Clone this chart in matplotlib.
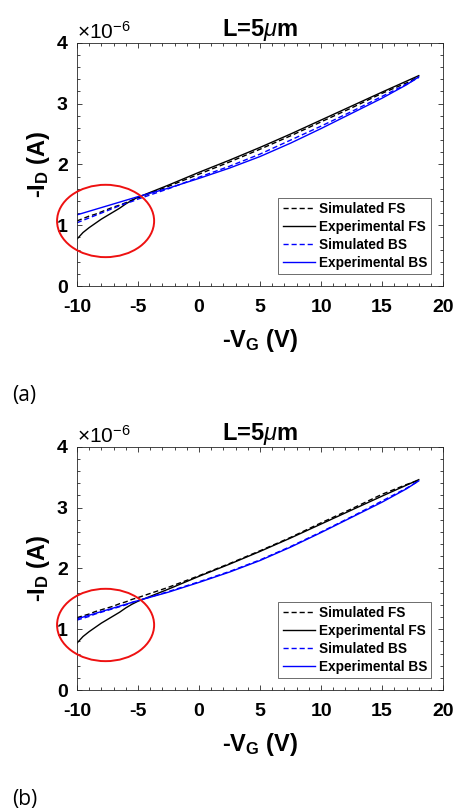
#!/usr/bin/env python3

import numpy as np
import matplotlib
matplotlib.use("Agg")
import matplotlib.pyplot as plt
from matplotlib.patches import Ellipse
from matplotlib.ticker import MultipleLocator, ScalarFormatter

# gate sweep (-V_G, volts)
vg = [-10, -9.5, -9, -8.5, -8, -7.5, -7, -6.5, -6, -5.5, -5,
      -2.5, 0, 2.5, 5, 7.5, 10, 12.5, 15, 17, 18]

# drain current (-I_D) in uA
exp_fs = [0.77, 0.88, 0.96, 1.03, 1.10, 1.16, 1.22, 1.28, 1.35, 1.41, 1.46,
          1.66, 1.87, 2.07, 2.28, 2.50, 2.73, 2.96, 3.19, 3.37, 3.46]
exp_bs = [1.17, 1.20, 1.23, 1.26, 1.29, 1.32, 1.35, 1.38, 1.41, 1.44, 1.47,
          1.61, 1.77, 1.94, 2.13, 2.35, 2.59, 2.84, 3.09, 3.31, 3.44]

# model (a)
sim_fs_a = [1.07, 1.11, 1.15, 1.18, 1.22, 1.26, 1.30, 1.33, 1.37, 1.41, 1.45,
            1.64, 1.84, 2.04, 2.25, 2.47, 2.70, 2.93, 3.17, 3.34, 3.44]
sim_bs_a = [1.04, 1.08, 1.12, 1.16, 1.20, 1.24, 1.28, 1.32, 1.36, 1.39, 1.43,
            1.60, 1.79, 1.97, 2.17, 2.40, 2.63, 2.87, 3.12, 3.32, 3.43]

# model (b)
sim_fs_b = [1.19, 1.22, 1.25, 1.29, 1.32, 1.35, 1.38, 1.42, 1.45, 1.49, 1.52,
            1.69, 1.88, 2.08, 2.29, 2.51, 2.75, 2.98, 3.22, 3.38, 3.45]
sim_bs_b = [1.15, 1.18, 1.21, 1.25, 1.28, 1.31, 1.34, 1.37, 1.40, 1.44, 1.47,
            1.62, 1.78, 1.95, 2.14, 2.36, 2.60, 2.85, 3.11, 3.32, 3.44]

labels = ["Simulated FS", "Experimental FS", "Simulated BS", "Experimental BS"]
panel_tags = ["(a)", "(b)"]

# highlight around the low-bias mismatch (V, uA)
circ_x, circ_y, circ_w, circ_h = -7.65, 1.07, 7.95, 1.19

plt.rcParams["font.family"] = ["Liberation Sans", "DejaVu Sans"]
plt.rcParams["mathtext.fontset"] = "custom"
plt.rcParams["mathtext.rm"] = "Liberation Sans"
plt.rcParams["mathtext.bf"] = "Liberation Sans:bold"
plt.rcParams["mathtext.it"] = "Liberation Sans:italic"
plt.rcParams["axes.unicode_minus"] = False

dash = (0, (3.7, 2.1))
edge = "#262626"

fig = plt.figure(figsize=(4.55, 8.08), dpi=100)

panels = [(0.646, sim_fs_a, sim_bs_a), (0.146, sim_fs_b, sim_bs_b)]
tag_y = [395, 799]

for k, (bottom, sim_fs, sim_bs) in enumerate(panels):
    ax = fig.add_axes([0.169, bottom, 0.805, 0.301])
    x = np.array(vg)
    ax.plot(x, np.array(sim_fs) * 1e-6, color="k", lw=1.0, ls=dash, label=labels[0])
    ax.plot(x, np.array(exp_fs) * 1e-6, color="k", lw=1.0, label=labels[1])
    ax.plot(x, np.array(sim_bs) * 1e-6, color="b", lw=1.0, ls=dash, label=labels[2])
    ax.plot(x, np.array(exp_bs) * 1e-6, color="b", lw=1.0, label=labels[3])

    ax.add_patch(Ellipse((circ_x, circ_y * 1e-6), circ_w, circ_h * 1e-6,
                         fill=False, ec="#ee1111", lw=1.4, clip_on=False, zorder=5))

    ax.set_xlim(-10, 20)
    ax.set_ylim(0, 4e-6)
    ax.xaxis.set_major_locator(MultipleLocator(5))
    ax.xaxis.set_minor_locator(MultipleLocator(1))
    ax.yaxis.set_major_locator(MultipleLocator(1e-6))
    ax.yaxis.set_minor_locator(MultipleLocator(0.2e-6))
    fmt = ScalarFormatter(useMathText=True)
    fmt.set_powerlimits((0, 0))
    ax.yaxis.set_major_formatter(fmt)

    ax.tick_params(which="both", direction="in", top=True, right=True,
                   color=edge, width=0.6)
    ax.tick_params(which="major", length=3.5, labelsize=14, pad=6)
    ax.tick_params(axis="x", which="major", pad=9)
    ax.tick_params(which="minor", length=2)
    for lab in ax.get_xticklabels() + ax.get_yticklabels():
        lab.set_fontweight("bold")
    for s in ax.spines.values():
        s.set_color(edge)
        s.set_linewidth(0.6)

    off = ax.yaxis.get_offset_text()
    off.set_fontsize(15)
    off.set_fontweight("normal")

    ax.set_title("L=5$\\mu$m", fontsize=17, fontweight="bold", pad=5)
    ax.set_xlabel("-V$_{\\mathbf{G}}$ (V)", fontsize=17, fontweight="bold", labelpad=8)
    ax.set_ylabel("-I$_{\\mathbf{D}}$ (A)", fontsize=17, fontweight="bold", labelpad=3)

    leg = ax.legend(loc="lower right", bbox_to_anchor=(0.967, 0.049), borderaxespad=0,
                    handlelength=2.35, handletextpad=0.3,
                    labelspacing=0.3, borderpad=0.3, fancybox=False, framealpha=1,
                    edgecolor="#555555", prop={"weight": "bold", "size": 9.8})
    leg.get_frame().set_linewidth(0.6)

    fig.text(12 / 455, 1 - tag_y[k] / 808, panel_tags[k], fontsize=15,
             family="Open Sans", va="center", ha="left")

fig.savefig("out.png", dpi=100)
